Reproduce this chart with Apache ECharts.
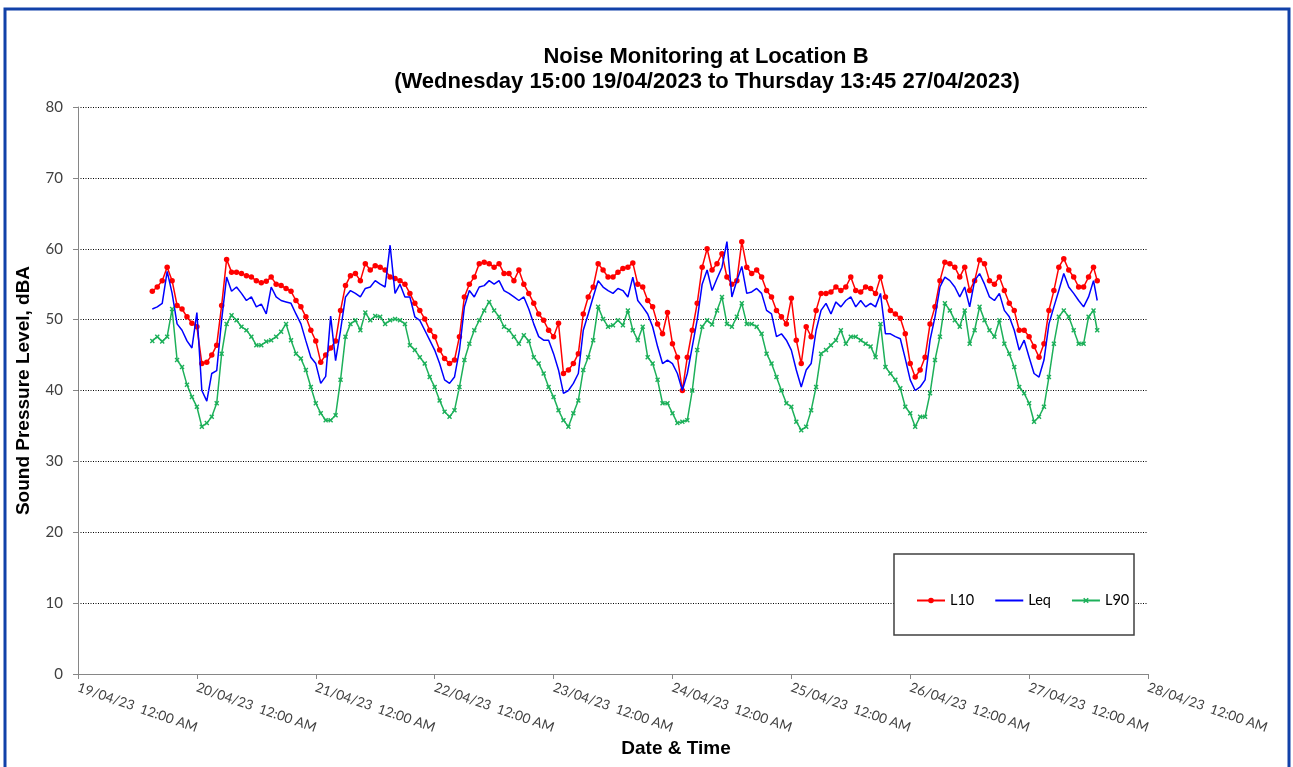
<!DOCTYPE html>
<html>
<head>
<meta charset="utf-8">
<script src="https://cdn.jsdelivr.net/npm/echarts@6/dist/echarts.min.js"></script>
<style>
html,body{margin:0;padding:0;background:#fff;}
#chart{width:1293px;height:767px;}
</style>
</head>
<body>
<div id="chart"></div>
<script>
// Sampling: hourly readings from Wed 19/04/2023 15:00 (hour 15 after 19/04 00:00) to Thu 27/04/2023 13:45
const START_HOUR = 15;
const END_HOUR = 205.75;
const DAY_LABELS = ['19/04/23','20/04/23','21/04/23','22/04/23','23/04/23','24/04/23','25/04/23','26/04/23','27/04/23','28/04/23'];
const Y_TICKS = [0,10,20,30,40,50,60,70,80];

const L10 = [
  54,54.6,55.5,57.4,55.5,52,51.5,50.4,49.5,49,
  43.8,44,45,46.4,52,58.5,56.7,56.7,56.5,56.2,
  56,55.5,55.2,55.4,56,55,54.8,54.4,54,52.7,
  51.8,50.4,48.5,47,44,45,46,47,51.3,54.8,
  56.2,56.5,55.5,57.9,57,57.6,57.4,57,56,55.8,
  55.5,55,53.7,52.3,51.3,50.1,48.5,47.6,45.7,44.5,
  43.8,44.3,47.6,53.2,55,56,57.9,58.1,57.9,57.4,
  57.9,56.5,56.5,55.5,57,55,53.7,52.3,50.8,49.9,
  48.5,47.6,49.5,42.4,42.9,43.8,45.2,50.8,53.2,54.6,
  57.9,57,56,56,56.7,57.2,57.4,58,55,54.6,
  52.7,51.8,49.4,48,51,46.6,44.7,40,44.7,48.5,
  52.3,57.4,60,57,57.9,59.3,56,55,55.5,61,
  57.4,56.5,57,56,54.1,53.2,51.3,50.4,49.4,53,
  47.1,43.8,49,47.6,51.3,53.7,53.7,53.9,54.6,54.1,
  54.6,56,54.1,53.9,54.6,54.4,53.7,56,53.2,51.3,
  50.8,50.2,48,43.8,41.9,42.9,44.7,49.4,51.8,55.5,
  58.1,57.9,57.4,56,57.4,54.1,55.5,58.4,57.9,55.5,
  55,56,54.1,52.3,51.3,48.5,48.5,47.6,46.2,44.7,
  46.6,51.3,54.1,57.4,58.6,57,56,54.6,54.6,56,
  57.4,55.5
];
const LEQ = [
  51.5,51.8,52.3,56.8,53.7,49.4,48.5,47,46,51,
  40,38.5,42.4,42.8,50,56,54,54.6,53.7,52.7,
  53.2,51.8,52.2,50.8,54.6,53.2,52.7,52.5,52.3,50.8,
  49.4,47,44.7,43.8,41,42,50.5,44.2,48.5,53.2,
  54.1,53.7,53.2,54.4,54.6,55.5,55,54.6,60.5,53.7,
  55,53.2,53.2,50.4,49.9,48.5,47.1,45.7,43.8,41.5,
  41,41.9,45.7,51.8,54.1,53.2,54.6,54.8,55.5,55,
  55.5,54.1,53.7,53.2,52.7,53.2,51.5,49.4,47.6,47.1,
  47.1,45.2,42.9,39.6,40,41,42.4,48.5,50.8,53.2,
  55.5,54.6,54.1,53.7,54.4,54.1,53.2,56,52.7,51.8,
  50.8,49,46.2,43.8,44.3,43.8,42.4,40,42.4,46.2,
  50,55,57,54.1,55.8,57.4,61,53.2,55.5,57.5,
  53.7,53.9,54.4,53.7,51.3,50.8,47.6,48,47.1,45.7,
  42.9,40.5,42.9,43.8,48.5,51.3,52.3,50.8,52.5,51.8,
  52.7,53.2,51.8,52.7,51.8,52.3,51.8,53.7,48,48,
  47.6,47.3,44.5,41.5,40,40.5,41.5,47.1,50.4,54.6,
  56,55.5,54.6,53.2,54.6,51.8,55.5,56.5,55,53.2,
  52.7,53.7,51.3,50.4,48.5,45.7,47.1,44.7,42.4,41.9,
  44.3,49.4,51.8,54.1,56.5,54.6,53.7,52.7,51.8,53.2,
  55.5,52.7
];
const L90 = [
  47,47.6,46.9,47.6,51.5,44.3,43.3,40.8,39.1,37.7,
  34.9,35.4,36.3,38.2,45.2,49.4,50.6,49.9,49,48.5,
  47.6,46.4,46.4,46.9,47.1,47.6,48.3,49.4,47.1,45.2,
  44.5,42.9,40.5,38.2,36.8,35.8,35.8,36.5,41.5,47.6,
  49.4,49.9,48.5,51,49.9,50.5,50.4,49.4,49.9,50.1,
  49.9,49.4,46.4,45.7,44.7,43.8,41.9,40.5,38.6,37,
  36.3,37.2,40.5,44.3,46.6,48.5,49.9,51.3,52.5,51.3,
  50.4,49,48.5,47.6,46.6,47.8,47,44.7,43.8,42.4,
  40.5,39.1,37.2,35.8,34.9,36.8,38.6,42.9,44.7,47.1,
  51.8,50.1,49,49.2,49.9,49.2,51.3,48.5,47.1,49,
  44.7,43.8,41.5,38.2,38.2,36.8,35.4,35.6,35.8,40,
  45.7,49,49.9,49.3,51.3,53.2,49.4,49,50.4,52.3,
  49.4,49.4,49,48,45.2,43.8,41.9,40,38.2,37.7,
  35.6,34.4,34.9,37.2,40.5,45.2,45.7,46.4,47.1,48.5,
  46.6,47.6,47.6,47.1,46.6,46.2,44.7,49.4,43.3,42.4,
  41.5,40.3,37.7,36.8,34.9,36.3,36.3,39.6,44.3,47.6,
  52.3,51.3,49.9,49,51.3,46.6,48.5,51.8,49.9,48.5,
  47.6,49.9,46.6,45.2,43.3,40.5,39.6,38.2,35.6,36.3,
  37.7,41.9,46.6,50.4,51.3,50.4,48.5,46.6,46.6,50.4,
  51.3,48.5
];

const HOURS = L10.map((v, i) => i < L10.length - 1 ? START_HOUR + i : END_HOUR);
const pair = arr => arr.map((v, i) => [HOURS[i], v]);

const LABEL_FONT = 'Lato';
const BOLD_FONT = '"Liberation Sans", Arial, sans-serif';
const starPath = 'path://M0,2L2,0L5,3L8,0L10,2L7,5L10,8L8,10L5,7L2,10L0,8L3,5Z';

const chart = echarts.init(document.getElementById('chart'), null, {renderer: 'canvas'});
chart.setOption({
  animation: false,
  backgroundColor: '#fff',
  grid: {left: 78, right: 145, top: 107, bottom: 93, containLabel: false, outerBoundsMode: 'none'},
  xAxis: {
    type: 'value',
    min: 0, max: 216, interval: 24,
    axisLine: {show: true, onZero: false, lineStyle: {color: '#868686', width: 1}},
    axisTick: {show: true, length: 5, lineStyle: {color: '#868686'}},
    splitLine: {show: false},
    axisLabel: {
      rotate: -19, margin: 13,
      showMinLabel: true, showMaxLabel: true,
      fontFamily: LABEL_FONT, fontSize: 13.5, color: '#404040',
      formatter: v => DAY_LABELS[Math.round(v / 24)] + '  12:00 AM'
    }
  },
  yAxis: {
    type: 'value',
    min: Y_TICKS[0], max: Y_TICKS[Y_TICKS.length - 1], interval: 10,
    name: 'Sound Pressure Level, dBA',
    nameLocation: 'middle', nameGap: 45,
    nameTextStyle: {fontFamily: BOLD_FONT, fontWeight: 'bold', fontSize: 19, color: '#000'},
    axisLine: {show: true, lineStyle: {color: '#868686', width: 1}},
    axisTick: {show: true, length: 5, lineStyle: {color: '#868686'}},
    axisLabel: {fontFamily: LABEL_FONT, fontSize: 15, color: '#404040', margin: 15},
    splitLine: {show: true, lineStyle: {color: '#000', width: 1, type: [1, 1.5]}}
  },
  legend: {
    left: 911, top: 588,
    itemWidth: 28, itemHeight: 7, itemGap: 20,
    textStyle: {fontFamily: LABEL_FONT, fontSize: 14.5, color: '#000'},
    data: ['L10', {name: 'Leq', itemStyle: {opacity: 0}}, 'L90'],
    z: 10
  },
  graphic: [
    {type: 'rect', z: 0, silent: true,
      shape: {x: 5, y: 9, width: 1284, height: 775},
      style: {fill: 'none', stroke: '#1141A9', lineWidth: 3}},
    {type: 'rect', z: 9, silent: true,
      shape: {x: 894, y: 554, width: 240, height: 81},
      style: {fill: '#fff', stroke: '#404040', lineWidth: 1.5}},
    {type: 'text', z: 10, silent: true, x: 706, y: 46,
      style: {text: 'Noise Monitoring at Location B', font: 'bold 22px "Liberation Sans", Arial, sans-serif', fill: '#000', align: 'center', verticalAlign: 'top'}},
    {type: 'text', z: 10, silent: true, x: 707, y: 71,
      style: {text: '(Wednesday 15:00 19/04/2023 to Thursday 13:45 27/04/2023)', font: 'bold 22px "Liberation Sans", Arial, sans-serif', fill: '#000', align: 'center', verticalAlign: 'top'}},
    {type: 'text', z: 10, silent: true, x: 676, y: 739,
      style: {text: 'Date & Time', font: 'bold 19px "Liberation Sans", Arial, sans-serif', fill: '#000', align: 'center', verticalAlign: 'top'}}
  ],
  series: [
    {name: 'L10', type: 'line', data: pair(L10),
      symbol: 'circle', symbolSize: 5.5, showAllSymbol: true,
      lineStyle: {color: '#FF0000', width: 1.5},
      itemStyle: {color: '#FF0000'}, z: 2},
    {name: 'Leq', type: 'line', data: pair(LEQ),
      symbol: 'none',
      lineStyle: {color: '#0000FF', width: 1.5},
      itemStyle: {color: '#0000FF'}, z: 3},
    {name: 'L90', type: 'line', data: pair(L90),
      symbol: starPath, symbolSize: 5, showAllSymbol: true,
      lineStyle: {color: '#1DB05A', width: 1.5},
      itemStyle: {color: '#1DB05A'}, z: 4}
  ]
});
</script>
</body>
</html>
